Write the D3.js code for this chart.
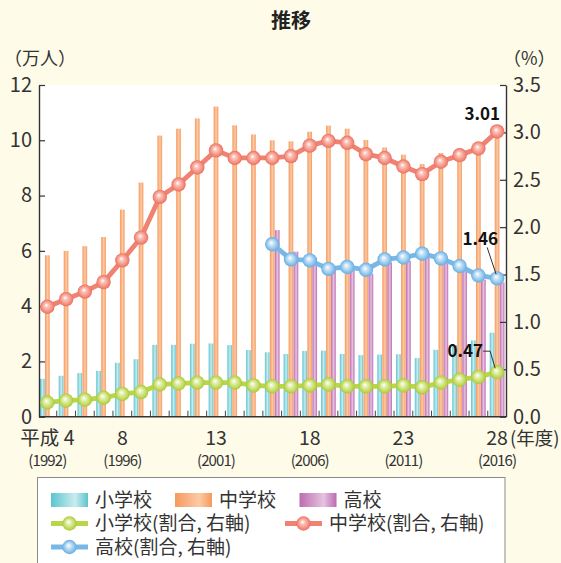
<!DOCTYPE html>
<html><head><meta charset="utf-8">
<script src="https://cdn.jsdelivr.net/npm/d3@7"></script>
<style>html,body{margin:0;padding:0;background:#fefbe8;} svg{display:block;}</style>
</head><body>
<svg id="chart" width="561" height="563"></svg>
<script>
const years = [1992,1993,1994,1995,1996,1997,1998,1999,2000,2001,2002,2003,2004,2005,2006,2007,2008,2009,2010,2011,2012,2013,2014,2015,2016];
const elemCount = [1.37,1.48,1.58,1.66,1.95,2.08,2.60,2.60,2.64,2.65,2.59,2.41,2.33,2.27,2.38,2.39,2.27,2.23,2.25,2.26,2.12,2.42,2.59,2.76,3.04];
const juniorCount = [5.84,6.00,6.17,6.50,7.49,8.47,10.17,10.42,10.79,11.22,10.54,10.21,10.00,9.96,10.31,10.53,10.42,10.01,9.74,9.48,9.14,9.54,9.70,9.84,10.32];
const highYears = [2004,2005,2006,2007,2008,2009,2010,2011,2012,2013,2014,2015,2016];
const highCount = [6.75,5.97,5.75,5.30,5.30,5.17,5.58,5.64,5.77,5.57,5.32,4.96,4.86];
const elemRate = [0.15,0.17,0.18,0.20,0.24,0.26,0.34,0.35,0.36,0.36,0.36,0.33,0.32,0.32,0.33,0.34,0.32,0.32,0.32,0.33,0.31,0.36,0.39,0.42,0.47];
const juniorRate = [1.16,1.24,1.32,1.42,1.65,1.89,2.32,2.45,2.63,2.81,2.73,2.73,2.73,2.75,2.86,2.91,2.89,2.77,2.73,2.64,2.56,2.69,2.76,2.83,3.01];
const highRate = [1.82,1.66,1.65,1.56,1.58,1.55,1.66,1.68,1.72,1.67,1.59,1.49,1.46];
const leftTicks = [0,2,4,6,8,10,12];
const rightTicks = [0,0.5,1.0,1.5,2.0,2.5,3.0,3.5];
const xLabelYears = [1992,1996,2001,2006,2011,2016];
const xLabelMain = ["平成 4","8","13","18","23","28"];
const xLabelSub = ["(1992)","(1996)","(2001)","(2006)","(2011)","(2016)"];

const FONT = "'Noto Sans CJK JP','Noto Sans',sans-serif";
const svg = d3.select("#chart").style("font-family", FONT);
const L = 39, R = 506, T = 85, B = 416.7;

svg.append("rect").attr("width",561).attr("height",563).attr("fill","#fefbe8");
svg.append("rect").attr("x",L).attr("y",T).attr("width",R-L).attr("height",B-T).attr("fill","#ffffff");

const x = d3.scaleBand().domain(years).range([38, 506.5]).paddingInner(0).paddingOuter(0);
const cx = d => x(d) + x.bandwidth()/2;
const yL = d3.scaleLinear().domain([0,12]).range([B,T]);
const yR = d3.scaleLinear().domain([0,3.5]).range([B,T]);

const defs = svg.append("defs");
function barGrad(id, c, light){
  const g = defs.append("linearGradient").attr("id",id).attr("x1","0").attr("x2","1").attr("y1","0").attr("y2","0");
  g.append("stop").attr("offset","0%").attr("stop-color",c);
  g.append("stop").attr("offset","55%").attr("stop-color",light);
  g.append("stop").attr("offset","100%").attr("stop-color",c);
}
barGrad("gC","#5cc4ce","#c9ecef");
barGrad("gO","#f5995c","#fccaa6");
barGrad("gP","#bb6bb0","#e6c3e0");
function ballGrad(id, light, c, dark){
  const g = defs.append("radialGradient").attr("id",id).attr("cx","50%").attr("cy","50%").attr("r","50%").attr("fx","42%").attr("fy","38%");
  g.append("stop").attr("offset","0%").attr("stop-color","#ffffff");
  g.append("stop").attr("offset","30%").attr("stop-color",light);
  g.append("stop").attr("offset","80%").attr("stop-color",c);
  g.append("stop").attr("offset","100%").attr("stop-color",dark);
}
ballGrad("bR","#fbc3b8","#f2887a","#e8705f");
ballGrad("bG","#e4f0b4","#bdd755","#a8c73a");
ballGrad("bB","#cfe6f7","#82bfea","#67abdf");

// bars
const BW = 5;
svg.append("g").selectAll("rect").data(years).join("rect")
  .attr("x", (d)=>cx(d)-7.4).attr("width",BW-0.3)
  .attr("y",(d,i)=>yL(elemCount[i])).attr("height",(d,i)=>B-yL(elemCount[i]))
  .attr("fill","url(#gC)");
svg.append("g").selectAll("rect").data(years).join("rect")
  .attr("x", (d)=>cx(d)-2.4).attr("width",BW-0.3)
  .attr("y",(d,i)=>yL(juniorCount[i])).attr("height",(d,i)=>B-yL(juniorCount[i]))
  .attr("fill","url(#gO)");
svg.append("g").selectAll("rect").data(highYears).join("rect")
  .attr("x", (d)=>cx(d)+2.6).attr("width",BW-0.3)
  .attr("y",(d,i)=>yL(highCount[i])).attr("height",(d,i)=>B-yL(highCount[i]))
  .attr("fill","url(#gP)");

// bottom axis
svg.append("line").attr("x1",L).attr("x2",R).attr("y1",B).attr("y2",B).attr("stroke","#333").attr("stroke-width",1.4);
svg.append("g").selectAll("line").data(years.slice(1)).join("line")
  .attr("x1",d=>x(d)).attr("x2",d=>x(d)).attr("y1",B).attr("y2",B-6)
  .attr("stroke","#444").attr("stroke-width",1);

// axes
const axL = svg.append("g").attr("transform",`translate(${L},0)`)
  .call(d3.axisLeft(yL).tickValues(leftTicks).tickSizeInner(-6).tickSizeOuter(0).tickPadding(7).tickFormat(d3.format("d")));
const axR = svg.append("g").attr("transform",`translate(${R},0)`)
  .call(d3.axisRight(yR).tickValues(rightTicks).tickSizeInner(-6).tickSizeOuter(0).tickPadding(7).tickFormat(d3.format(".1f")));
[axL,axR].forEach(a=>{
  a.select(".domain").attr("stroke","#333").attr("stroke-width",1.4);
  a.selectAll(".tick line").attr("stroke","#333").attr("stroke-width",1.2);
  a.selectAll(".tick text").attr("fill","#333").style("font-size","20px").style("font-family",FONT);
});

// lines
function drawLine(xs, vals, color, grad){
  const pts = xs.map((d,i)=>[cx(d), yR(vals[i])]);
  svg.append("path").attr("d", d3.line()(pts)).attr("fill","none").attr("stroke",color).attr("stroke-width",4.8).attr("stroke-linejoin","round");
  svg.append("g").selectAll("circle").data(pts).join("circle")
    .attr("cx",p=>p[0]).attr("cy",p=>p[1]).attr("r",7.2).attr("fill",`url(#${grad})`);
}
drawLine(years, juniorRate, "#f08272", "bR");
drawLine(highYears, highRate, "#78b8e6", "bB");
drawLine(years, elemRate, "#b9d548", "bG");

// value labels
const lastYear = years[years.length-1];
svg.append("text").attr("x",cx(lastYear)+3).attr("y",yR(juniorRate[24])-11).attr("text-anchor","end")
  .attr("font-weight","bold").attr("font-size",17).attr("fill","#111").text(juniorRate[24].toFixed(2));
svg.append("text").attr("x",cx(lastYear)+1).attr("y",yR(highRate[12])-33).attr("text-anchor","end")
  .attr("font-weight","bold").attr("font-size",17).attr("fill","#111").text(highRate[12].toFixed(2));
svg.append("polyline").attr("points",`${cx(lastYear)-10},${yR(highRate[12])-31} ${cx(lastYear)-1},${yR(highRate[12])-4}`)
  .attr("fill","none").attr("stroke","#333").attr("stroke-width",1);
svg.append("text").attr("x",cx(lastYear)-14).attr("y",yR(elemRate[24])-15).attr("text-anchor","end")
  .attr("font-weight","bold").attr("font-size",17).attr("fill","#111").text(elemRate[24].toFixed(2));
svg.append("polyline").attr("points",`${cx(lastYear)-14},${yR(elemRate[24])-21} ${cx(lastYear)-7},${yR(elemRate[24])-21} ${cx(lastYear)-2},${yR(elemRate[24])-4}`)
  .attr("fill","none").attr("stroke","#333").attr("stroke-width",1);

// x labels
svg.append("g").selectAll("text").data(xLabelYears).join("text")
  .attr("x",d=>cx(d)).attr("y",445).attr("text-anchor","middle").attr("font-size",19.5).attr("fill","#333")
  .text((d,i)=>xLabelMain[i]);
svg.append("g").selectAll("text").data(xLabelYears).join("text")
  .attr("x",d=>cx(d)).attr("y",466).attr("text-anchor","middle").attr("font-size",15).attr("fill","#333")
  .attr("letter-spacing","-0.9")
  .text((d,i)=>xLabelSub[i]);
svg.append("text").attr("x",510).attr("y",445).attr("font-size",18.5).attr("fill","#333").text("(年度)");

// titles
svg.append("text").attr("x",291).attr("y",28).attr("text-anchor","middle").attr("font-size",20).attr("font-weight","bold").attr("fill","#222").text("推移");
svg.append("text").attr("x",4).attr("y",65).attr("font-size",18).attr("fill","#333").text("（万人）");
svg.append("text").attr("x",503).attr("y",65).attr("font-size",18).attr("fill","#333").text("（%）");

// legend
const lg = svg.append("g");
lg.append("rect").attr("x",37.5).attr("y",477.5).attr("width",467.5).attr("height",100).attr("fill","#fff").attr("stroke","#8a8a8a").attr("stroke-width",1);
const barLegend = [["小学校","gC",51],["中学校","gO",175],["高校","gP",299.5]];
barLegend.forEach(([t,g,x0])=>{
  const lgr = defs.append("linearGradient").attr("id",g+"L").attr("x1","0").attr("x2","1");
  const base = d3.select("#"+g).selectAll("stop").nodes().map(n=>n.getAttribute("stop-color"));
  lgr.append("stop").attr("offset","0%").attr("stop-color",base[0]);
  lgr.append("stop").attr("offset","65%").attr("stop-color",base[1]);
  lgr.append("stop").attr("offset","100%").attr("stop-color",base[0]);
  lg.append("rect").attr("x",x0).attr("y",493).attr("width",37).attr("height",14).attr("fill",`url(#${g}L)`);
  lg.append("text").attr("x",x0+44).attr("y",506.5).attr("font-size",19).attr("fill","#333").text(t);
});
const lineLegend = [["小学校(割合, 右軸)","#b9d548","bG",51,523.5],["中学校(割合, 右軸)","#f08272","bR",285,523.5],["高校(割合, 右軸)","#78b8e6","bB",51,547]];
lineLegend.forEach(([t,c,g,x0,yy])=>{
  lg.append("line").attr("x1",x0).attr("x2",x0+37).attr("y1",yy).attr("y2",yy).attr("stroke",c).attr("stroke-width",4.8);
  lg.append("circle").attr("cx",x0+18.5).attr("cy",yy).attr("r",7.2).attr("fill",`url(#${g})`);
  lg.append("text").attr("x",x0+44).attr("y",yy+6.5).attr("font-size",19).attr("fill","#333").text(t);
});
</script>
</body></html>
